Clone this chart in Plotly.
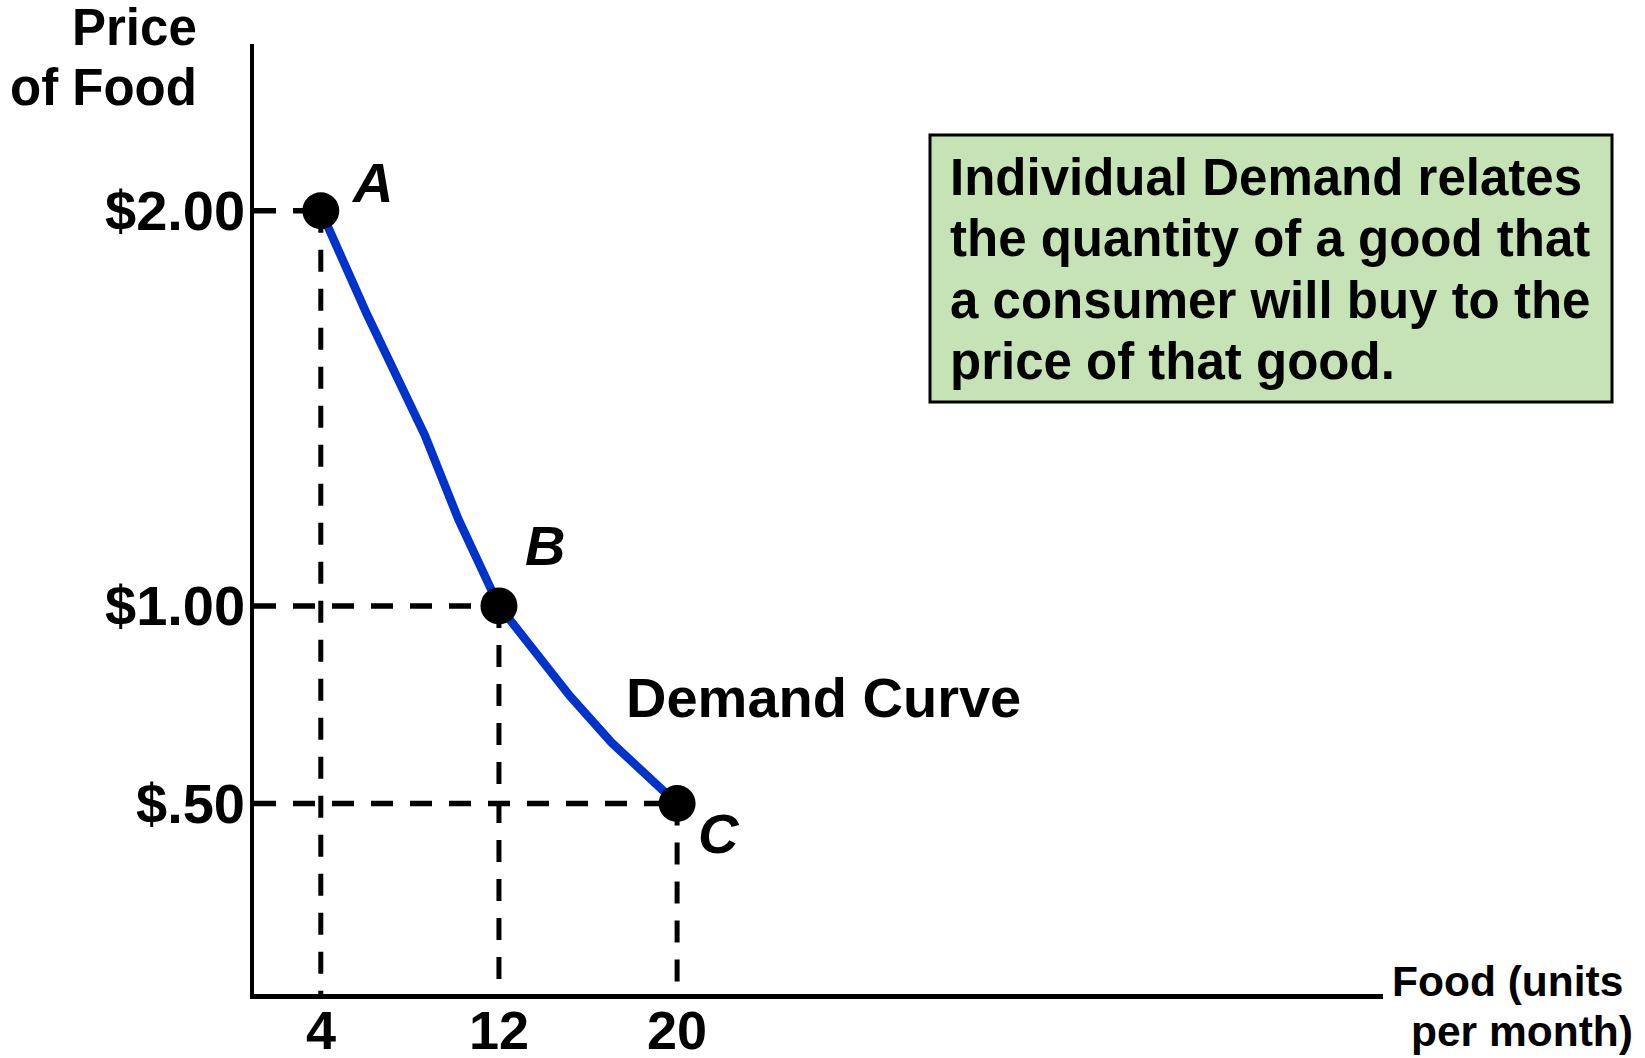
import plotly.graph_objects as go

# ---------------- data ----------------
point_labels = ["A", "B", "C"]
quantity = [4, 12, 20]
price = [2.00, 1.00, 0.50]

curve_q = [4, 6.08, 8.67, 10.18, 12, 13.62, 15.17, 17.06, 20]
curve_p = [2.00, 1.737, 1.432, 1.219, 1.00, 0.887, 0.773, 0.654, 0.50]

x_tickvals = [4, 12, 20]
x_ticktext = ["4", "12", "20"]
y_tickvals = [0.5, 1.0, 2.0]
y_ticktext = ["$.50", "$1.00", "$2.00"]

box_lines = [
    "Individual Demand relates",
    "the quantity of a good that",
    "a consumer will buy to the",
    "price of that good.",
]

X_RANGE = [1.0, 51.7]
Y_RANGE = [0.018, 2.422]

# ---------------- layout geometry ----------------
W, H = 1645, 1058
L, R, T, B = 254, 1383, 44, 994
FONT = "Liberation Sans, Arial, Helvetica, sans-serif"


def px2x(px):
    return (px - L) / (R - L)


def py2y(py):
    return (B - py) / (B - T)


fig = go.Figure()

dash = "22px,17px"
# dashed guide lines
for q, p in zip(quantity, price):
    fig.add_trace(go.Scatter(x=[q, q], y=[p, Y_RANGE[0]], mode="lines",
                             line=dict(color="black", width=5, dash=dash),
                             hoverinfo="skip", showlegend=False))
    fig.add_trace(go.Scatter(x=[X_RANGE[0], q], y=[p, p], mode="lines",
                             line=dict(color="black", width=5.5, dash=dash),
                             hoverinfo="skip", showlegend=False))

# demand curve
fig.add_trace(go.Scatter(x=curve_q, y=curve_p, mode="lines",
                         line=dict(color="#0033CC", width=8.5),
                         hoverinfo="skip", showlegend=False))

# points
fig.add_trace(go.Scatter(x=quantity, y=price, mode="markers",
                         marker=dict(color="black", size=37),
                         hoverinfo="skip", showlegend=False))

# point labels
label_shift = {"A": (51, 28), "B": (46, 60), "C": (42, -30)}
for lab, q, p in zip(point_labels, quantity, price):
    dx, dy = label_shift[lab]
    fig.add_annotation(x=q, y=p, text="<b><i>%s</i></b>" % lab, showarrow=False,
                       xshift=dx, yshift=dy, xanchor="center", yanchor="middle",
                       font=dict(family=FONT, size=56, color="black"))

# tick labels placed on the axes' own scales
for v, t in zip(x_tickvals, x_ticktext):
    fig.add_annotation(x=v, xref="x", y=py2y(1030), yref="paper",
                       text="<b>%s</b>" % t, showarrow=False,
                       xanchor="center", yanchor="middle",
                       font=dict(family=FONT, size=54, color="black"))
for v, t in zip(y_tickvals, y_ticktext):
    fig.add_annotation(x=px2x(247), xref="paper", y=v, yref="y",
                       text="<b>%s</b>" % t, showarrow=False,
                       xanchor="right", yanchor="middle",
                       font=dict(family=FONT, size=56, color="black"))

# Demand Curve label
fig.add_annotation(x=px2x(624), y=py2y(697), xref="paper", yref="paper",
                   text="<b>Demand Curve</b>", showarrow=False,
                   xanchor="left", yanchor="middle",
                   font=dict(family=FONT, size=56, color="black"))

# y-axis title
for txt, cy in [("Price", 28), ("of Food", 88)]:
    fig.add_annotation(x=px2x(199), y=py2y(cy), xref="paper", yref="paper",
                       text="<b>%s</b>" % txt, showarrow=False,
                       xanchor="right", yanchor="middle",
                       font=dict(family=FONT, size=51, color="black"))

# x-axis title
for txt, rx, cy in [("Food (units", 1625, 981), ("per month)", 1635, 1031)]:
    fig.add_annotation(x=px2x(rx), y=py2y(cy), xref="paper", yref="paper",
                       text="<b>%s</b>" % txt, showarrow=False,
                       xanchor="right", yanchor="middle",
                       font=dict(family=FONT, size=42.5, color="black"))

# green info box
fig.add_shape(type="rect", xref="paper", yref="paper",
              x0=px2x(930), x1=px2x(1612), y0=py2y(402), y1=py2y(135),
              fillcolor="#C5E3B5", line=dict(color="black", width=3), layer="below")
for i, txt in enumerate(box_lines):
    cy = 178 + 61 * i
    fig.add_annotation(x=px2x(948), y=py2y(cy), xref="paper", yref="paper",
                       text="<b>%s</b>" % txt, showarrow=False,
                       xanchor="left", yanchor="middle",
                       font=dict(family=FONT, size=51, color="black"))

fig.update_layout(
    width=W, height=H,
    margin=dict(l=L, r=W - R, t=T, b=H - B, pad=0, autoexpand=False),
    paper_bgcolor="white", plot_bgcolor="white",
    showlegend=False,
    xaxis=dict(range=X_RANGE, tickvals=x_tickvals, showticklabels=False,
               showgrid=False, zeroline=False, showline=True, linecolor="black",
               linewidth=5, ticks="", automargin=False, fixedrange=True),
    yaxis=dict(range=Y_RANGE, tickvals=y_tickvals, showticklabels=False,
               showgrid=False, zeroline=False, showline=True, linecolor="black",
               linewidth=4, ticks="", automargin=False, fixedrange=True),
)

fig.write_html("out.html", config={"displayModeBar": False},
               post_script="document.body.style.margin='0';document.body.style.padding='0';")
